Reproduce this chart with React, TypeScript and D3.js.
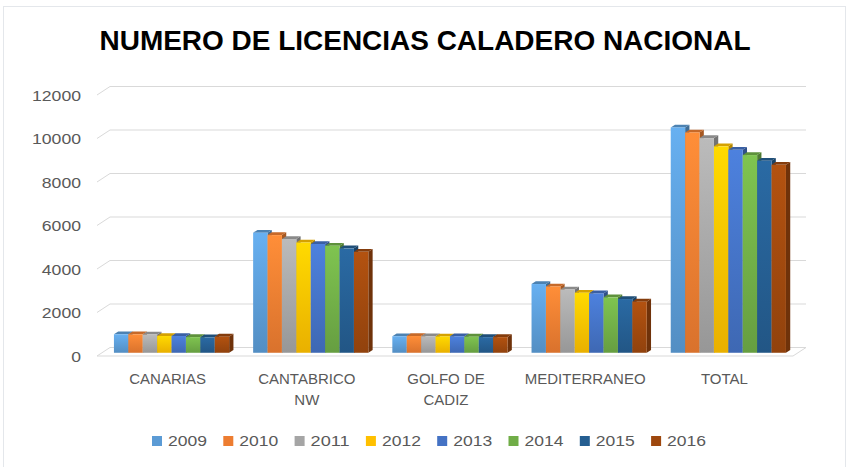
import React from "react";
import * as d3 from "d3";

const categories = ["CANARIAS", "CANTABRICO NW", "GOLFO DE CADIZ", "MEDITERRANEO", "TOTAL"];
const categoryLines = [["CANARIAS"], ["CANTABRICO", "NW"], ["GOLFO DE", "CADIZ"], ["MEDITERRANEO"], ["TOTAL"]];
const years = ["2009", "2010", "2011", "2012", "2013", "2014", "2015", "2016"];
const v2009 = [850, 5520, 760, 3160, 10360];
const v2010 = [850, 5410, 770, 3050, 10130];
const v2011 = [840, 5230, 760, 2910, 9870];
const v2012 = [770, 5070, 750, 2760, 9490];
const v2013 = [770, 5000, 760, 2730, 9330];
const v2014 = [720, 4920, 740, 2550, 9090];
const v2015 = [710, 4800, 720, 2470, 8830];
const v2016 = [740, 4640, 720, 2350, 8640];
const seriesValues = [v2009, v2010, v2011, v2012, v2013, v2014, v2015, v2016];
const colors = ["#5B9BD5", "#ED7D31", "#A5A5A5", "#FFC000", "#4472C4", "#70AD47", "#255E91", "#9E480E"];
const yTicks = [0, 2000, 4000, 6000, 8000, 10000, 12000];
const title = "NUMERO DE LICENCIAS CALADERO NACIONAL";

export default function App() {
  const W = 847, H = 467;
  const x0 = 97, x1 = 793;
  const DX = 13, DY = -8.5;
  const bx = 0.38 * DX, by = 0.38 * DY;
  const tdx = 0.33 * DX, tdy = 0.33 * DY;

  const band = d3.scaleBand<string>().domain(categories).range([x0, x1]);
  const inner = d3.scaleBand<string>().domain(years).range([0, band.bandwidth()]).paddingInner(0).paddingOuter(0.833);
  const y = d3.scaleLinear().domain([0, 12000]).range([356, 95]);
  const w = inner.bandwidth();
  const grid = "#d9d9d9";
  const textCol = "#595959";

  return (
    <svg width={W} height={H} style={{ position: "absolute", left: 0, top: 0, background: "#fff" }}>
      <defs>
        {colors.map((c, i) => {
          const top = d3.color(c)!.brighter(0.35).formatHex();
          const bot = d3.color(c)!.darker(0.25).formatHex();
          return (
            <linearGradient key={i} id={`g${i}`} x1="0" y1="0" x2="0" y2="1">
              <stop offset="0%" stopColor={top} />
              <stop offset="100%" stopColor={bot} />
            </linearGradient>
          );
        })}
      </defs>
      <rect x={3.5} y={6.5} width={842} height={470} fill="#fff" stroke="#e4e7eb" />
      <text x={425} y={50} textAnchor="middle" fontFamily="Liberation Sans, Arial, sans-serif" fontWeight="bold" fontSize={28} fill="#000" textLength={651} lengthAdjust="spacingAndGlyphs">
        {title}
      </text>
      {yTicks.map((t) => (
        <polyline key={t} points={`${x0},${y(t)} ${x0 + DX},${y(t) + DY} ${x1 + DX},${y(t) + DY}`} fill="none" stroke={grid} strokeWidth={1} />
      ))}
      <polyline points={`${x0},${y(0)} ${x1},${y(0)} ${x1 + DX},${y(0) + DY}`} fill="none" stroke={grid} strokeWidth={1} />
      {yTicks.map((t) => (
        <text key={"l" + t} x={81} y={y(t) + 5.5} textAnchor="end" fontFamily="Liberation Sans, Arial, sans-serif" fontSize={14} fill={textCol} textLength={String(t).length * 9.8} lengthAdjust="spacingAndGlyphs">
          {t}
        </text>
      ))}
      {categories.map((c, ci) => (
        <g key={c}>
          {years.map((yr, si) => {
            const v = seriesValues[si][ci];
            const x = (band(c) as number) + (inner(yr) as number) + bx;
            const yt = y(v) + by;
            const yb = y(0) + by;
            const col = colors[si];
            const topC = d3.color(col)!.darker(0.5).formatHex();
            const sideC = d3.color(col)!.darker(1.0).formatHex();
            return (
              <g key={yr}>
                <polygon points={`${x + w},${yt} ${x + w + tdx},${yt + tdy} ${x + w + tdx},${yb + tdy} ${x + w},${yb}`} fill={sideC} />
                <polygon points={`${x},${yt} ${x + w},${yt} ${x + w + tdx},${yt + tdy} ${x + tdx},${yt + tdy}`} fill={topC} />
                <rect x={x} y={yt} width={w} height={yb - yt} fill={`url(#g${si})`} />
              </g>
            );
          })}
        </g>
      ))}
      {categories.map((c, ci) => (
        <text key={"c" + c} textAnchor="middle" fontFamily="Liberation Sans, Arial, sans-serif" fontSize={15} fill={textCol}>
          {categoryLines[ci].map((ln, li) => (
            <tspan key={li} x={(band(c) as number) + band.bandwidth() / 2 + 1} y={384 + li * 21}>
              {ln}
            </tspan>
          ))}
        </text>
      ))}
      {years.map((yr, si) => {
        const lx = 152 + si * 71.3;
        return (
          <g key={"lg" + yr}>
            <rect x={lx} y={436} width={10} height={10} fill={colors[si]} />
            <text x={lx + 16} y={446} fontFamily="Liberation Sans, Arial, sans-serif" fontSize={14} fill={textCol} textLength={39} lengthAdjust="spacingAndGlyphs">
              {yr}
            </text>
          </g>
        );
      })}
    </svg>
  );
}
